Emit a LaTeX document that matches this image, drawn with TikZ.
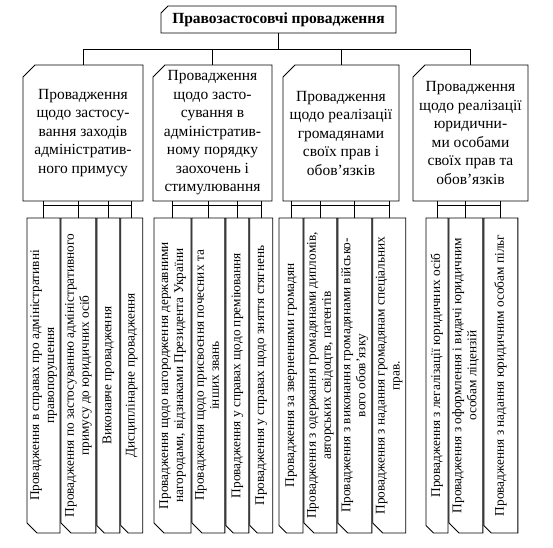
\documentclass[tikz,border=0pt]{standalone}
\usepackage{fontspec}
\setmainfont{Liberation Serif}
\usepackage{graphicx}
\usetikzlibrary{positioning,shapes.misc}

\newcommand{\vlab}[1]{\rotatebox{90}{\begin{tabular}{@{}c@{}}#1\end{tabular}}}

\begin{document}
\begin{tikzpicture}[x=1pt,y=1pt,line width=0.9pt,
	head/.style={draw,chamfered rectangle,chamfered rectangle corners=north west,chamfered rectangle sep=5pt,inner sep=-5pt,minimum width=235pt,minimum height=27pt,font=\fontsize{15.5}{18}\selectfont\bfseries},
	group/.style={draw,chamfered rectangle,chamfered rectangle corners=north west,chamfered rectangle sep=6pt,inner sep=-6pt,minimum height=136pt,align=center,font=\fontsize{15.5}{18.5}\selectfont},
	leaf/.style={draw,chamfered rectangle,chamfered rectangle corners=south west,chamfered rectangle sep=5pt,inner sep=-5pt,minimum height=315pt,font=\fontsize{13.3}{15}\selectfont}]
	\useasboundingbox (0,0) rectangle (553,-547);

	\node[head] (law) at (278.5,-19.5) {Правозастосовчі провадження};

	\node[group,minimum width=120pt] (g1) at (83,-133) {Провадження\\щодо застосу-\\вання заходів\\адміністратив-\\ного примусу};
	\node[group,minimum width=119pt] (g2) at (212.5,-133) {Провадження\\щодо засто-\\сування в\\адміністратив-\\ному порядку\\заохочень і\\стимулювання};
	\node[group,minimum width=116pt] (g3) at (341,-133) {Провадження\\щодо реалізації\\громадянами\\своїх прав і\\обов'язків};
	\node[group,minimum width=115pt] (g4) at (470.5,-133) {Провадження\\щодо реалізації\\юридични-\\ми особами\\своїх прав та\\обов'язків};

	\node[leaf,minimum width=33pt] (a1) at (43.5,-375.5) {\vlab{Провадження в справах про адміністративні\\правопорушення}};
	\node[leaf,minimum width=35pt,right=0pt of a1] (a2) {\vlab{Провадження по застосуванню адміністративного\\примусу до юридичних осіб}};
	\node[leaf,minimum width=23pt,right=0pt of a2] (a3) {\vlab{Виконавче провадження}};
	\node[leaf,minimum width=22pt,right=0pt of a3] (a4) {\vlab{Дисциплінарне провадження}};

	\node[leaf,minimum width=37pt] (b1) at (172.5,-375.5) {\vlab{Провадження щодо нагородження державними\\нагородами, відзнаками Президента України}};
	\node[leaf,minimum width=33pt,right=0pt of b1] (b2) {\vlab{Провадження щодо присвоєння почесних та\\інших звань}};
	\node[leaf,minimum width=23pt,right=0pt of b2] (b3) {\vlab{Провадження у справах щодо преміювання}};
	\node[leaf,minimum width=23pt,right=0pt of b3] (b4) {\vlab{Провадження у справах щодо зняття стягнень}};

	\node[leaf,minimum width=24pt] (c1) at (291,-375.5) {\vlab{Провадження за зверненнями громадян}};
	\node[leaf,minimum width=33pt,right=0pt of c1] (c2) {\vlab{Провадження з одержання громадянами дипломів,\\авторських свідоцтв, патентів}};
	\node[leaf,minimum width=34pt,right=0pt of c2] (c3) {\vlab{Провадження з виконання громадянами військо-\\вого обов'язку}};
	\node[leaf,minimum width=33pt,right=0pt of c3] (c4) {\vlab{Провадження з надання громадянам спеціальних\\прав.}};

	\node[leaf,minimum width=22pt] (d1) at (437,-375.5) {\vlab{Провадження з легалізації юридичних осіб}};
	\node[leaf,minimum width=34pt,right=0pt of d1] (d2) {\vlab{Провадження з оформлення і видачі юридичним\\особам ліцензій}};
	\node[leaf,minimum width=34pt,right=0pt of d2] (d3) {\vlab{Провадження з надання юридичним особам пільг}};

	\coordinate (bus) at (0,-49);
	\coordinate (sub) at (0,-205);
	\draw (law.south) -- (law.south |- bus);
	\draw (g1.north |- bus) -- (g4.north |- bus);
	\foreach \g in {g1,g2,g3,g4}
		\draw (\g.north) -- (\g.north |- bus);

	\draw (a1.north |- sub) -- (a4.north |- sub);
	\draw (b1.north |- sub) -- (b4.north |- sub);
	\draw (c1.north |- sub) -- (c4.north |- sub);
	\draw (d1.north |- sub) -- (d3.north |- sub);
	\foreach \l in {a1,a2,a3,a4}
		\draw (\l.north |- g1.south) -- (\l.north);
	\foreach \l in {b1,b2,b3,b4}
		\draw (\l.north |- g2.south) -- (\l.north);
	\foreach \l in {c1,c2,c3,c4}
		\draw (\l.north |- g3.south) -- (\l.north);
	\foreach \l in {d1,d2,d3}
		\draw (\l.north |- g4.south) -- (\l.north);
\end{tikzpicture}
\end{document}
